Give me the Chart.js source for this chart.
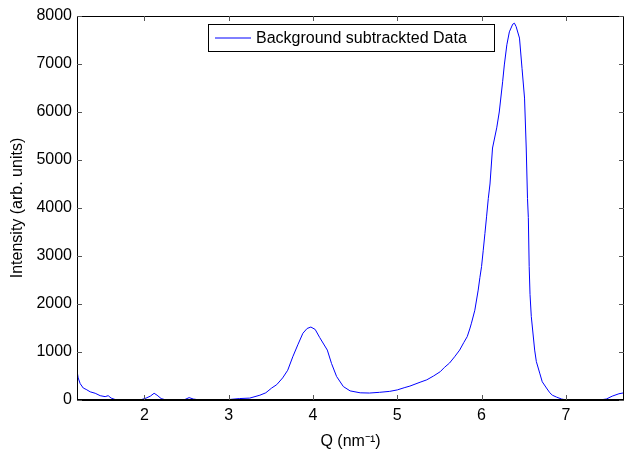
<!DOCTYPE html>
<html>
<head>
<meta charset="utf-8">
<script src="https://cdn.jsdelivr.net/npm/chart.js@4/dist/chart.umd.min.js"></script>
<style>
  html, body { margin: 0; padding: 0; background: #fff; }
  #wrap { width: 627px; height: 451px; }
</style>
</head>
<body>
<div id="wrap"><canvas id="chart"></canvas></div>
<script>
// Data
const qValues = [
  1.203, 1.214, 1.238, 1.274, 1.309, 1.357, 1.416, 1.475, 1.534, 1.570, 1.605, 1.652, 1.712,
  1.83, 1.95, 2.02, 2.07, 2.115, 2.15, 2.198, 2.257, 2.36, 2.48, 2.53, 2.58, 2.66, 2.84,
  3.004, 3.13, 3.25, 3.37, 3.44, 3.51, 3.57, 3.64, 3.70, 3.76, 3.82, 3.88, 3.93, 3.975,
  4.026, 4.08, 4.17, 4.22, 4.28, 4.36, 4.44, 4.56, 4.67, 4.79, 4.91, 5.00, 5.09, 5.15,
  5.27, 5.35, 5.43, 5.51, 5.56, 5.62, 5.68, 5.74, 5.79, 5.83, 5.86, 5.88, 5.92, 5.96,
  5.98, 6.00, 6.02, 6.04, 6.06, 6.08, 6.10, 6.13, 6.18, 6.21, 6.25, 6.27, 6.30, 6.33,
  6.37, 6.39, 6.41, 6.45, 6.48, 6.51, 6.53, 6.545, 6.555, 6.565, 6.575, 6.59, 6.63, 6.65,
  6.69, 6.72, 6.77, 6.81, 6.84, 6.89, 6.95, 7.01, 7.16, 7.40, 7.48, 7.55, 7.63, 7.69
];
const intensity = [
  580, 460, 340, 250, 220, 170, 140, 90, 70, 90, 40, 10, 0,
  0, 0, 40, 80, 140, 100, 30, 0, 0, 10, 50, 20, 0, 0,
  10, 30, 40, 100, 150, 250, 320, 460, 620, 900, 1150, 1390, 1490, 1520,
  1470, 1300, 1040, 760, 490, 280, 190, 150, 145, 160, 180, 210, 260, 290,
  370, 420, 500, 590, 680, 770, 900, 1040, 1200, 1320, 1480, 1600, 1870, 2290,
  2550, 2780, 3120, 3470, 3830, 4200, 4500, 5250, 5670, 6000, 6630, 6980, 7400, 7670,
  7830, 7850, 7780, 7540, 6910, 6290, 5250, 4200, 3800, 2780, 2200, 1740, 1040, 800,
  560, 380, 250, 150, 100, 60, 20, 0, 0, 0, 20, 80, 130, 150
];
const xTicks = [2, 3, 4, 5, 6, 7];
const yTicks = [0, 1000, 2000, 3000, 4000, 5000, 6000, 7000, 8000];
const seriesLabel = 'Background subtrackted Data';

const FONT = 'Arial, "Liberation Sans", Helvetica, sans-serif';

// MATLAB-style frame with inward ticks on all four sides + inset legend
const framePlugin = {
  id: 'frame',
  afterDatasetsDraw(chart) {
    const { ctx, chartArea: a, scales: { x, y } } = chart;
    ctx.save();
    ctx.strokeStyle = '#000';
    ctx.lineWidth = 1;
    ctx.strokeRect(a.left + 0.5, a.top + 0.5, a.right - a.left - 1, a.bottom - a.top - 1);
    ctx.lineWidth = 2;
    ctx.beginPath();
    ctx.moveTo(a.left, a.bottom);
    ctx.lineTo(a.right, a.bottom);
    ctx.stroke();
    ctx.lineWidth = 1;
    ctx.strokeStyle = '#555';
    const tl = 5;
    ctx.beginPath();
    xTicks.forEach(v => {
      const px = Math.round(x.getPixelForValue(v)) + 0.5;
      ctx.moveTo(px, a.bottom); ctx.lineTo(px, a.bottom - tl);
      ctx.moveTo(px, a.top); ctx.lineTo(px, a.top + tl);
    });
    yTicks.forEach(v => {
      const py = Math.round(y.getPixelForValue(v)) + 0.5;
      ctx.moveTo(a.left, py); ctx.lineTo(a.left + tl, py);
      ctx.moveTo(a.right, py); ctx.lineTo(a.right - tl, py);
    });
    ctx.stroke();

    // legend box
    const lx = 208, ly = 24, lw = 286, lh = 27;
    ctx.fillStyle = '#fff';
    ctx.fillRect(lx, ly, lw, lh);
    ctx.strokeStyle = '#000';
    ctx.strokeRect(lx + 0.5, ly + 0.5, lw, lh);
    ctx.strokeStyle = '#0000ff';
    ctx.beginPath();
    ctx.moveTo(215, ly + lh / 2 + 0.5);
    ctx.lineTo(251, ly + lh / 2 + 0.5);
    ctx.stroke();
    ctx.fillStyle = '#000';
    ctx.font = '16px ' + FONT;
    ctx.textBaseline = 'middle';
    ctx.fillText(seriesLabel, 256, ly + lh / 2 + 1);
    ctx.restore();
  }
};

new Chart(document.getElementById('chart'), {
  type: 'scatter',
  data: {
    datasets: [{
      label: seriesLabel,
      data: qValues.map((q, i) => ({ x: q, y: intensity[i] })),
      showLine: true,
      borderColor: '#0000ff',
      borderWidth: 1,
      pointRadius: 0,
      tension: 0
    }]
  },
  options: {
    responsive: true,
    maintainAspectRatio: false,
    animation: false,
    layout: { padding: { top: 16, right: 3, left: 0, bottom: 0 } },
    plugins: { legend: { display: false }, tooltip: { enabled: false } },
    scales: {
      x: {
        type: 'linear',
        min: 1.2,
        max: 7.69,
        afterBuildTicks: s => { s.ticks = xTicks.map(v => ({ value: v })); },
        afterFit: s => { s.height = 51; },
        grid: { display: false, drawTicks: false },
        border: { display: false },
        ticks: { color: '#000', font: { size: 16, family: FONT }, padding: 6, maxRotation: 0, callback: v => String(v) },
        title: { display: true, text: 'Q (nm⁻¹)', color: '#000', font: { size: 16, family: FONT }, padding: { top: 2, bottom: 0 } }
      },
      y: {
        min: 0,
        max: 8000,
        afterBuildTicks: s => { s.ticks = yTicks.map(v => ({ value: v })); },
        afterFit: s => { s.width = 77; },
        grid: { display: false, drawTicks: false },
        border: { display: false },
        ticks: { color: '#000', font: { size: 16, family: FONT }, padding: 5, callback: v => String(v) },
        title: { display: true, text: 'Intensity (arb. units)', color: '#000', font: { size: 16, family: FONT }, padding: { top: 8, bottom: 0 } }
      }
    }
  },
  plugins: [framePlugin]
});
</script>
</body>
</html>
